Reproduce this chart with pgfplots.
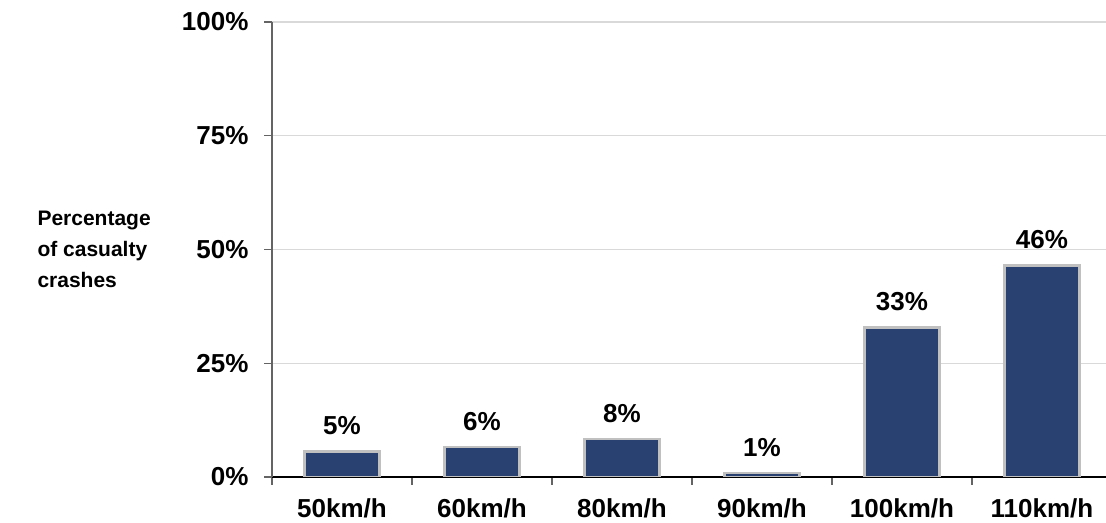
\documentclass[border=0pt]{standalone}
\usepackage{pgfplots}
\pgfplotsset{compat=1.18}
\usepackage{fontspec}
\setmainfont{Liberation Sans}
\definecolor{barblue}{RGB}{41,65,112}
\definecolor{bargray}{RGB}{192,192,192}
\definecolor{gridgray}{RGB}{217,217,217}
\definecolor{axisgray}{RGB}{100,100,100}
\begin{document}
\begin{tikzpicture}
\useasboundingbox (0,0) rectangle (1106bp,523bp);
\begin{axis}[
  at={(272bp,46bp)}, anchor=south west,
  scale only axis, width=840bp, height=455bp,
  xmin=-0.5, xmax=5.5, ymin=0, ymax=100,
  axis x line*=bottom, axis y line*=left,
  x axis line style={black, line width=1.2bp},
  y axis line style={axisgray, line width=1.2bp},
  xtick={-0.5,0.5,...,5.5},
  x tick label as interval,
  xticklabels={50km/h,60km/h,80km/h,90km/h,100km/h,110km/h},
  ytick={0,25,50,75,100},
  yticklabel={\pgfmathprintnumber{\tick}\%},
  tick align=outside,
  major tick length=8bp,
  every tick/.style={axisgray, line width=1.2bp},
  ymajorgrids, grid style={gridgray, line width=1.2bp},
  tick label style={font=\fontsize{26bp}{30bp}\selectfont\bfseries},
  /pgf/number format/assume math mode=true,
  xticklabel style={yshift=-10bp},
  yticklabel style={xshift=-12bp},
]
\addplot[ybar, bar width=75bp, fill=barblue, draw=bargray, line width=2.5bp,
  nodes near coords, point meta=explicit symbolic,
  every node near coord/.append style={font=\fontsize{26bp}{30bp}\selectfont\bfseries, text=black, anchor=south, yshift=12bp}]
  table[meta=label] {
x y label
0 5.6 5\%
1 6.6 6\%
2 8.3 8\%
3 0.9 1\%
4 32.9 33\%
5 46.5 46\%
};
\end{axis}
\node[anchor=west, align=left, font=\fontsize{21bp}{31bp}\selectfont\bfseries] at (34bp,274bp) {Percentage\\of casualty\\crashes};
\end{tikzpicture}
\end{document}
